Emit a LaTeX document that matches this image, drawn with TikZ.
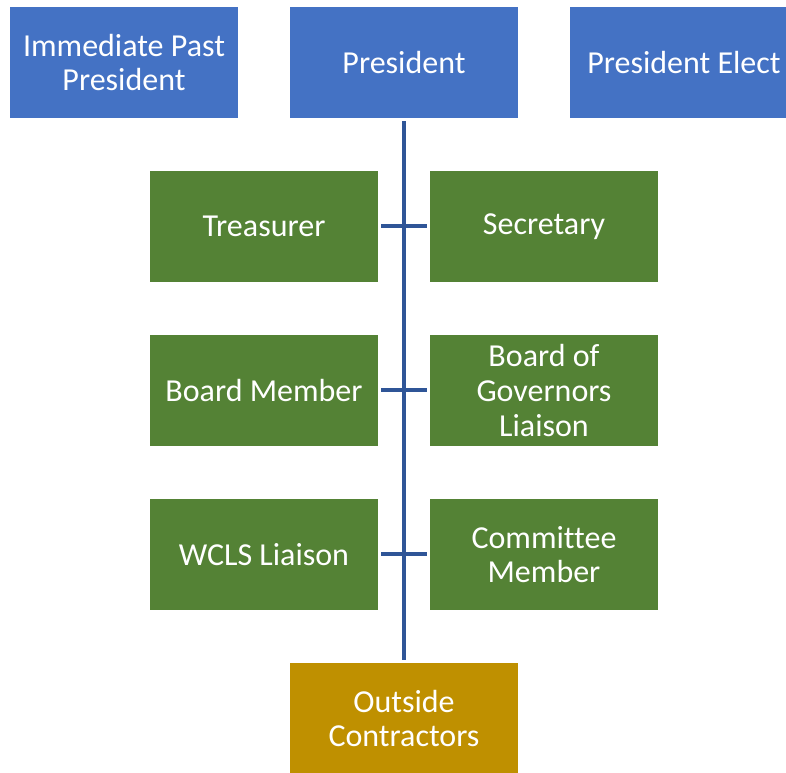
\documentclass[tikz,border=0pt]{standalone}
\usepackage{fontspec}
\setmainfont{Carlito}[Ligatures=NoCommon]
\definecolor{officerblue}{HTML}{4472C4}
\definecolor{boardgreen}{HTML}{548235}
\definecolor{contractgold}{HTML}{BF9000}
\definecolor{trunkblue}{HTML}{2F5597}
\begin{document}
\begin{tikzpicture}[x=0.75pt, y=-0.75pt,
        box/.style={text=white, align=center, inner sep=0pt,
            minimum width=171pt, minimum height=83.25pt,
            font=\fontsize{24}{26}\selectfont},
        officer/.style={box, fill=officerblue},
        member/.style={box, fill=boardgreen},
        outside/.style={box, fill=contractgold},
        link/.style={trunkblue, line width=3pt, shorten <=2.25pt, shorten >=2.25pt}]
        \useasboundingbox (0,0) rectangle (786,773);
        \clip (0,0) rectangle (786,773);

        % top row
        \node[officer] (past) at (124,62.5) {Immediate Past\\President};
        \node[officer] (president) at (404,62.5) {President};
        \node[officer] (elect) at (684,62.5) {President Elect};

        % board
        \node[member] (treasurer) at (264,226.5) {Treasurer};
        \node[member] (secretary) at (544,226.5) {Secretary};
        \node[member] (boardmember) at (264,390.5) {Board Member};
        \node[member] (governors) at (544,390.5) {Board of\\Governors\\Liaison};
        \node[member] (wcls) at (264,554.5) {WCLS Liaison};
        \node[member] (committee) at (544,554.5) {Committee\\Member};

        \node[outside] (contractors) at (404,718.5) {Outside\\Contractors};

        % trunk and cross ties
        \draw[link] (president.south) -- (contractors.north);
        \draw[link] (treasurer.east) -- (secretary.west);
        \draw[link] (boardmember.east) -- (governors.west);
        \draw[link] (wcls.east) -- (committee.west);
    \end{tikzpicture}
\end{document}
